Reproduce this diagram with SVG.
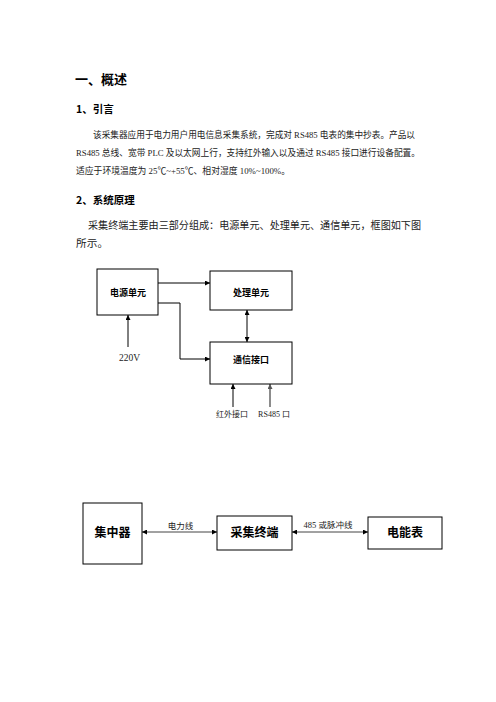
<svg xmlns="http://www.w3.org/2000/svg" width="496" height="702" viewBox="0 0 496 702">
<defs>
<style>
.h{font-family:"Noto Sans CJK SC","Liberation Sans",sans-serif;font-weight:bold;fill:#000}
.p{font-family:"Liberation Serif","Noto Sans CJK SC",serif;fill:#222}
.box{fill:#fff;stroke:#000;stroke-width:1}
.ln{fill:none;stroke:#000;stroke-width:1}
.lbl{font-family:"Noto Sans CJK SC","Liberation Sans",sans-serif;font-weight:bold;fill:#000;text-anchor:middle}
</style>
<marker id="ah" viewBox="0 0 10 10" refX="10" refY="5" markerWidth="6" markerHeight="5" markerUnits="userSpaceOnUse" orient="auto-start-reverse">
<path d="M0,0 L10,5 L0,10 Z" fill="#000"/>
</marker>
<marker id="ahg" viewBox="0 0 10 10" refX="10" refY="5" markerWidth="6" markerHeight="5" markerUnits="userSpaceOnUse" orient="auto-start-reverse">
<path d="M0,0 L10,5 L0,10 Z" fill="#555"/>
</marker>
</defs>
<rect width="496" height="702" fill="#fff"/>

<g id="text">
<text class="h" x="75" y="84" font-size="13">一、概述</text>
<text class="h" x="76" y="113" font-size="10.5">1、引言</text>
<text class="p" x="93" y="138" font-size="9" textLength="322" lengthAdjust="spacingAndGlyphs">该采集器应用于电力用户用电信息采集系统，完成对 RS485 电表的集中抄表。产品以</text>
<text class="p" x="76" y="156" font-size="9" textLength="344" lengthAdjust="spacingAndGlyphs">RS485 总线、宽带 PLC 及以太网上行，支持红外输入以及通过 RS485 接口进行设备配置。</text>
<text class="p" x="76" y="174" font-size="9" textLength="214" lengthAdjust="spacingAndGlyphs">适应于环境温度为 25℃~+55℃、相对湿度 10%~100%。</text>
<text class="h" x="76" y="204" font-size="10.5">2、系统原理</text>
<text class="p" x="88" y="229" font-size="10.7" textLength="333" lengthAdjust="spacingAndGlyphs">采集终端主要由三部分组成：电源单元、处理单元、通信单元，框图如下图</text>
<text class="p" x="76" y="247" font-size="10.7">所示。</text>
</g>

<g id="connectors">
<path class="ln" d="M158,283 H210" marker-end="url(#ah)"/>
<path class="ln" d="M158,303 H180 V359 H210" marker-end="url(#ah)"/>
<path class="ln" d="M247,310 V342" marker-start="url(#ah)" marker-end="url(#ah)"/>
<path class="ln" d="M128,347 V315" marker-end="url(#ah)"/>
<path class="ln" d="M233,407 V384" marker-end="url(#ah)"/>
<path d="M270,407 V384" fill="none" stroke="#666" stroke-width="1.5" marker-end="url(#ahg)"/>
<path d="M142,532 H217" fill="none" stroke="#444" stroke-width="1" marker-start="url(#ah)" marker-end="url(#ah)"/>
<path d="M292,532 H368" fill="none" stroke="#444" stroke-width="1" marker-start="url(#ah)" marker-end="url(#ah)"/>
</g>

<g id="power">
<rect class="box" x="97" y="269" width="61" height="46"/>
<text class="lbl" x="128" y="296" font-size="9">电源单元</text>
</g>
<g id="proc">
<rect class="box" x="210" y="271" width="82" height="39"/>
<text class="lbl" x="251" y="296" font-size="9">处理单元</text>
</g>
<g id="comm">
<rect class="box" x="210" y="342" width="82" height="42"/>
<text class="lbl" x="251" y="363" font-size="9">通信接口</text>
</g>
<g id="v220">
<text class="p" x="119" y="361" font-size="9.5" fill="#333">220V</text>
</g>
<g id="ir">
<text class="p" x="232" y="417" font-size="8" fill="#777" text-anchor="middle">红外接口</text>
</g>
<g id="rs485">
<text class="p" x="274" y="417" font-size="8" fill="#777" text-anchor="middle">RS485 口</text>
</g>

<g id="concentrator">
<rect class="box" x="83" y="503" width="59" height="61"/>
<text class="lbl" x="112.5" y="537" font-size="12">集中器</text>
</g>
<g id="terminal">
<rect class="box" x="217" y="516" width="75" height="34"/>
<text class="lbl" x="254.5" y="537" font-size="12">采集终端</text>
</g>
<g id="meter">
<rect class="box" x="368" y="517" width="74" height="32"/>
<text class="lbl" x="405" y="537" font-size="12">电能表</text>
</g>
<g id="edge-labels">
<text class="p" x="180.5" y="529" font-size="8.5" fill="#666" text-anchor="middle">电力线</text>
<text class="p" x="328" y="528" font-size="8.5" fill="#444" text-anchor="middle">485 或脉冲线</text>
</g>
</svg>
